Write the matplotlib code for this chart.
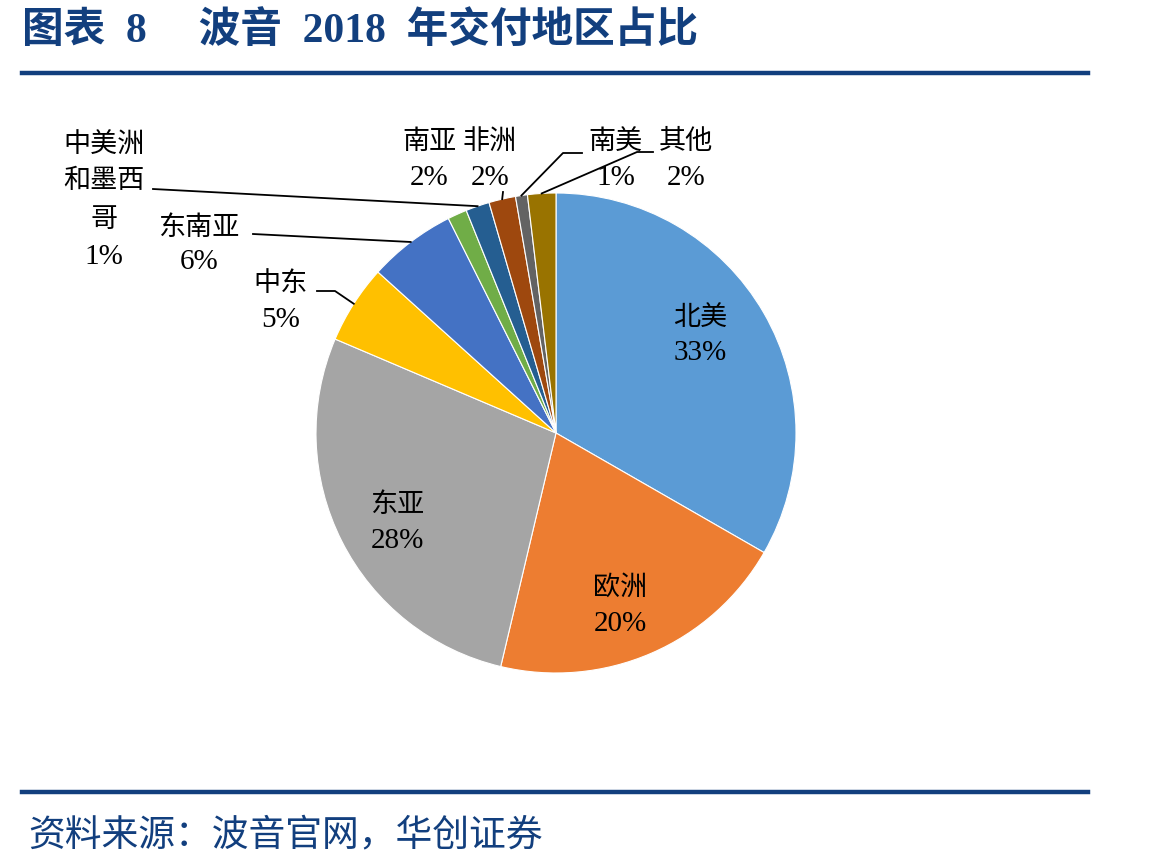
import matplotlib
matplotlib.use("Agg")
import matplotlib.pyplot as plt
import numpy as np
from matplotlib.lines import Line2D

# ---------------- data ----------------
categories = ["北美", "欧洲", "东亚", "中东", "东南亚", "中美洲和墨西哥", "南亚", "非洲", "南美", "其他"]
shares = [33.3, 20.4, 27.7, 5.3, 5.9, 1.3, 1.6, 1.8, 0.8, 1.9]
colors = ["#5B9BD5", "#ED7D31", "#A5A5A5", "#FFC000", "#4472C4",
          "#70AD47", "#255E91", "#9E480E", "#636363", "#997300"]
title_text = "图表  8     波音  2018  年交付地区占比"
source_text = "资料来源：波音官网，华创证券"

W, H = 1149, 868
DPI = 100
fig = plt.figure(figsize=(W / DPI, H / DPI), dpi=DPI)
fig.patch.set_facecolor("white")

MIX = ["Liberation Serif", "Noto Sans CJK SC", "DejaVu Sans"]
BLUE = "#123F7E"

# pie axes: centre (556,433) px, radius 240 px
cx, cy, R = 556, 433, 240
ax = fig.add_axes([(cx - R) / W, (H - cy - R) / H, 2 * R / W, 2 * R / H])
wedges, _ = ax.pie(shares, colors=colors, startangle=90, counterclock=False,
                   radius=1.0, wedgeprops=dict(edgecolor="white", linewidth=0.8))
ax.set_xlim(-1, 1)
ax.set_ylim(-1, 1)
ax.set_aspect("equal")
ax.axis("off")


def d(px, py):
    """pixel position -> pie-axes data coords"""
    return (px - cx) / R, (cy - py) / R


def edge(i):
    w = wedges[i]
    a = np.deg2rad((w.theta1 + w.theta2) / 2)
    return np.cos(a), np.sin(a)


pct = [f"{round(v):d}%" for v in shares]
FS_CJK = 19.5
FS_NUM = 21


def label(lines, px, pys):
    for t, py in zip(lines, pys):
        x, y = d(px, py)
        fs = FS_NUM if t.endswith("%") else FS_CJK
        ax.text(x, y, t, ha="center", va="center", fontsize=fs, family=MIX,
                clip_on=False, color="black")


# inside labels
label([categories[0], pct[0]], 700, [318, 353])
label([categories[1], pct[1]], 620, [588, 624])
label([categories[2], pct[2]], 397, [505, 541])
# outside labels
label([categories[3], pct[3]], 281, [284, 320])
label([categories[4], pct[4]], 199, [228, 262])
label(["中美洲", "和墨西", "哥", pct[5]], 104, [145, 182, 221, 257])
label([categories[6], pct[6]], 429, [142, 178])
label([categories[7], pct[7]], 490, [142, 178])
label([categories[8], pct[8]], 616, [142, 178])
label([categories[9], pct[9]], 686, [142, 178])


def leader(pts_px, target):
    xs = [d(*p)[0] for p in pts_px] + [target[0]]
    ys = [d(*p)[1] for p in pts_px] + [target[1]]
    ax.add_line(Line2D(xs, ys, color="black", lw=1.3, clip_on=False))


leader([(317, 291), (335, 291)], edge(3))
leader([(253, 234)], edge(4))
leader([(153, 189)], edge(6))
leader([(503, 192)], edge(7))
leader([(582, 153), (563, 153)], edge(8))
leader([(653, 152), (637, 152)], edge(9))

# title, rules, source
fig.text(22 / W, 1 - 31 / H, title_text, ha="left", va="center", fontsize=30,
         fontweight="bold", family=MIX, color=BLUE)
fig.add_artist(Line2D([22 / W, 1088 / W], [1 - 73 / H, 1 - 73 / H], color=BLUE, lw=3.2))
fig.add_artist(Line2D([22 / W, 1088 / W], [1 - 792 / H, 1 - 792 / H], color=BLUE, lw=3.2))
fig.text(28 / W, 1 - 836 / H, source_text, ha="left", va="center", fontsize=26.5,
         family=MIX, color=BLUE, style="italic")

fig.savefig("out.png", dpi=DPI)
